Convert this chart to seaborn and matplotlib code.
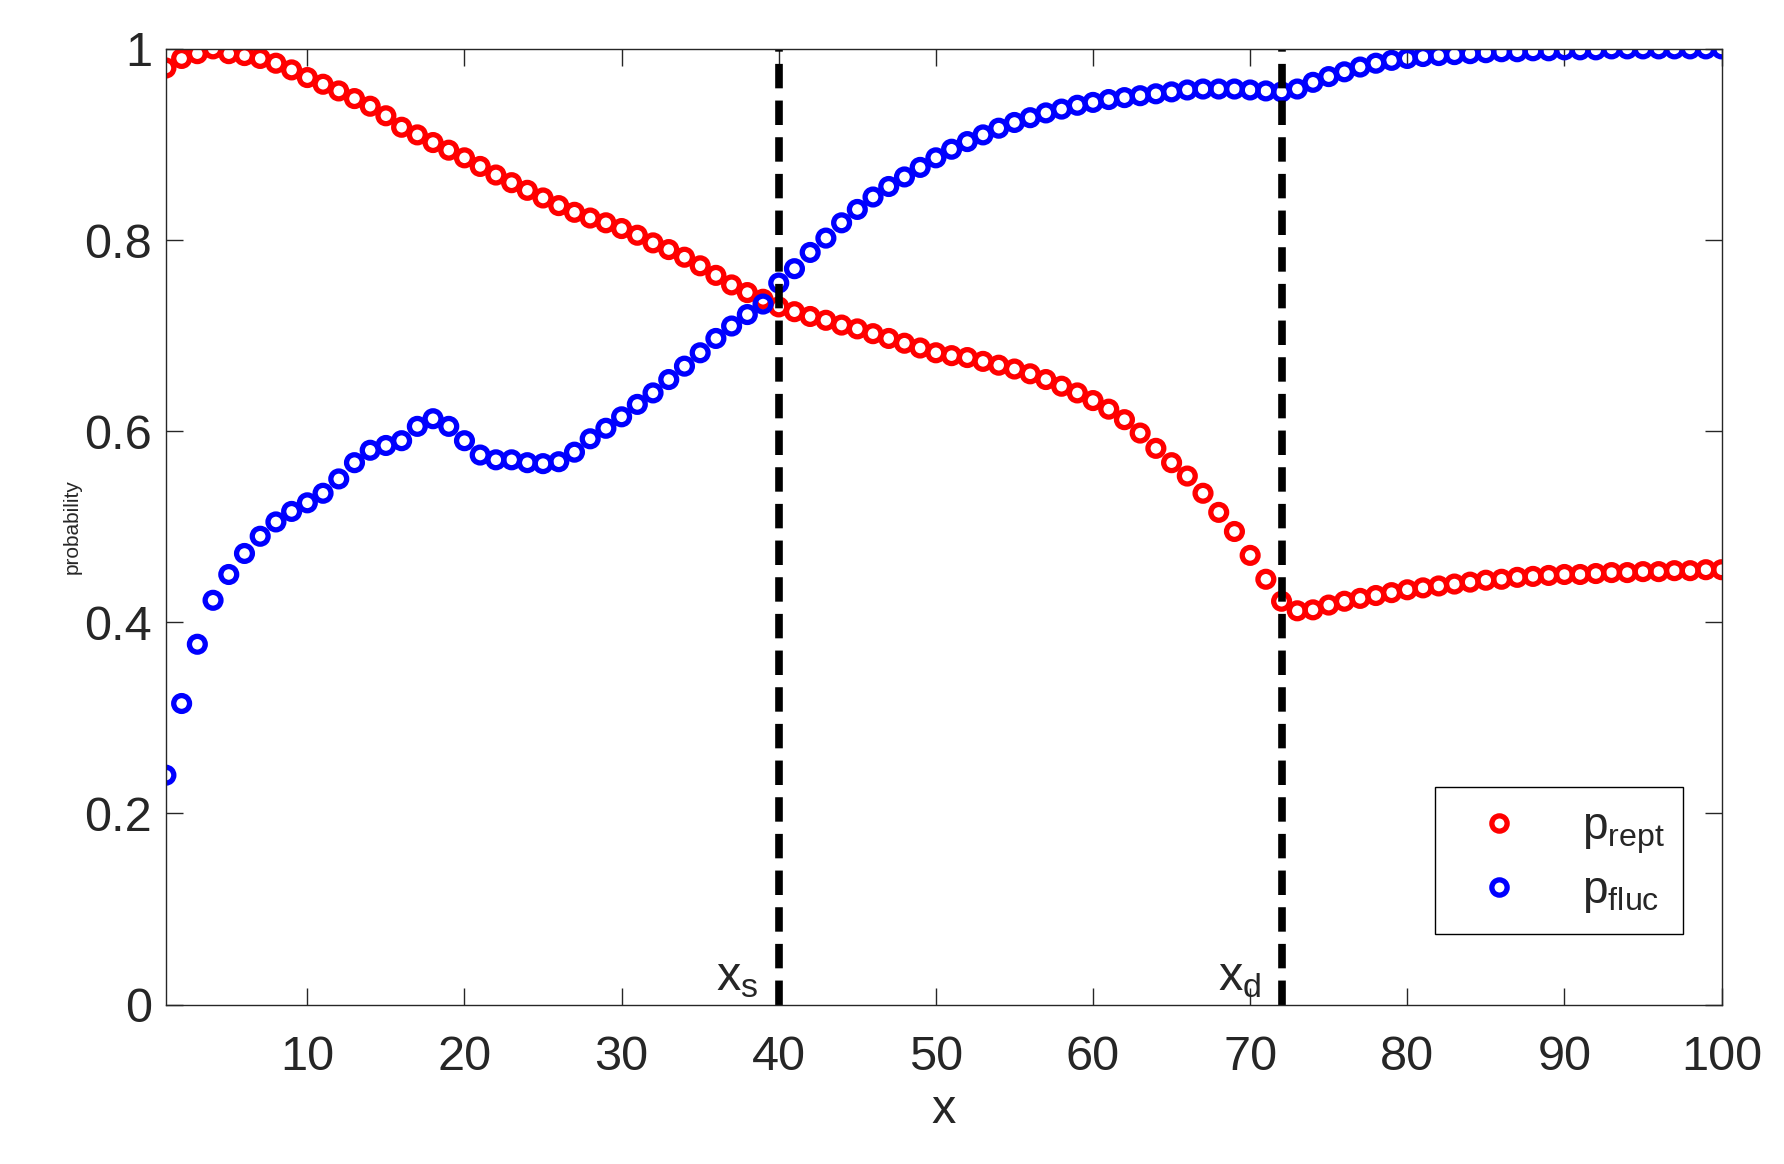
import numpy as np
import pandas as pd
import seaborn as sns
import matplotlib
matplotlib.use("Agg")
import matplotlib.pyplot as plt
from matplotlib.lines import Line2D

# Data
x = list(range(1, 101))
p_rept = [0.98, 0.99, 0.995, 1.0, 0.995, 0.993, 0.99, 0.985, 0.978, 0.97,
          0.963, 0.956, 0.948, 0.94, 0.93, 0.918, 0.91, 0.902, 0.894, 0.886,
          0.877, 0.868, 0.86, 0.852, 0.844, 0.836, 0.829, 0.823, 0.818, 0.812,
          0.805, 0.797, 0.79, 0.782, 0.773, 0.763, 0.753, 0.745, 0.738, 0.73,
          0.725, 0.72, 0.716, 0.711, 0.707, 0.702, 0.697, 0.692, 0.687, 0.682,
          0.679, 0.677, 0.673, 0.669, 0.665, 0.66, 0.654, 0.647, 0.64, 0.632,
          0.623, 0.612, 0.598, 0.582, 0.567, 0.553, 0.535, 0.515, 0.495, 0.47,
          0.445, 0.422, 0.412, 0.413, 0.418, 0.422, 0.425, 0.428, 0.431, 0.434,
          0.436, 0.438, 0.44, 0.442, 0.444, 0.445, 0.447, 0.448, 0.449, 0.45,
          0.45, 0.451, 0.452, 0.452, 0.453, 0.453, 0.454, 0.454, 0.455, 0.455]
p_fluc = [0.24, 0.315, 0.377, 0.423, 0.45, 0.472, 0.49, 0.505, 0.516, 0.525,
          0.535, 0.55, 0.567, 0.58, 0.585, 0.59, 0.605, 0.613, 0.605, 0.59,
          0.575, 0.57, 0.57, 0.567, 0.566, 0.568, 0.578, 0.592, 0.603, 0.615,
          0.628, 0.64, 0.654, 0.668, 0.682, 0.697, 0.71, 0.722, 0.733, 0.755,
          0.77, 0.787, 0.802, 0.818, 0.832, 0.845, 0.856, 0.866, 0.876, 0.886,
          0.895, 0.903, 0.91, 0.917, 0.923, 0.928, 0.933, 0.937, 0.941, 0.944,
          0.947, 0.949, 0.951, 0.953, 0.955, 0.957, 0.958, 0.958, 0.958, 0.957,
          0.956, 0.955, 0.958, 0.965, 0.971, 0.976, 0.981, 0.985, 0.988, 0.99,
          0.992, 0.993, 0.994, 0.995, 0.996, 0.997, 0.997, 0.998, 0.998, 0.999,
          0.999, 0.999, 1.0, 1.0, 1.0, 1.0, 1.0, 1.0, 1.0, 1.0]
x_s, x_d = 40, 72

df = pd.DataFrame({"x": x * 2, "p": p_rept + p_fluc,
                   "series": ["rept"] * 100 + ["fluc"] * 100})

sns.set_style("ticks")
plt.rcParams['font.family'] = ['Liberation Sans', 'DejaVu Sans']
plt.rcParams['mathtext.fontset'] = 'custom'
plt.rcParams['mathtext.rm'] = 'Liberation Sans'
plt.rcParams['mathtext.it'] = 'Liberation Sans'

fig = plt.figure(figsize=(17.84, 11.64), dpi=100)
ax = fig.add_axes([0.093, 0.137, 0.872, 0.821])

sns.scatterplot(data=df, x="x", y="p", hue="series",
                palette={"rept": "#ff0000", "fluc": "#0000ff"},
                ax=ax, s=130, marker="o", linewidth=3.8, legend=False)
# hollow circles
for coll in ax.collections:
    coll.set_edgecolor(coll.get_facecolor())
    coll.set_facecolor("none")

ax.axvline(x_s, color="black", lw=5.5, ls=(0, (3.2, 1.6)))
ax.axvline(x_d, color="black", lw=5.5, ls=(0, (3.2, 1.6)))
ax.text(x_s - 1.3, 0.005, r"x$_\mathregular{s}$", fontsize=35, ha="right", va="bottom")
ax.text(x_d - 1.3, 0.005, r"x$_\mathregular{d}$", fontsize=35, ha="right", va="bottom")

ax.set_xlim(1, 100)
ax.set_ylim(0, 1)
ax.set_xticks(range(10, 101, 10))
ax.set_yticks([0, 0.2, 0.4, 0.6, 0.8, 1])
ax.set_yticklabels(["0", "0.2", "0.4", "0.6", "0.8", "1"])
ax.tick_params(direction="in", length=12, width=1, labelsize=35, top=True, right=True,
               colors="#262626")
ax.tick_params(axis="x", pad=22)
ax.tick_params(axis="y", pad=10)
for sp in ax.spines.values():
    sp.set_visible(True)
    sp.set_linewidth(1)
    sp.set_color("#262626")
ax.set_xlabel("x", fontsize=35, color="#262626", labelpad=6)
ax.set_ylabel("probability", fontsize=15, color="#262626", labelpad=2)

handles = [Line2D([], [], ls="none", marker="o", ms=11, mfc="none", mew=3.8, mec="#ff0000"),
           Line2D([], [], ls="none", marker="o", ms=11, mfc="none", mew=3.8, mec="#0000ff")]
leg = ax.legend(handles, [r"p$_\mathregular{rept}$", r"p$_\mathregular{fluc}$"],
                loc="lower right", bbox_to_anchor=(0.99, 0.05), fontsize=33,
                frameon=True, fancybox=False, edgecolor="black", framealpha=1,
                handletextpad=0.8, borderpad=0.4, labelspacing=0.3)
leg.get_frame().set_linewidth(1)

fig.savefig("out.png", dpi=100)
